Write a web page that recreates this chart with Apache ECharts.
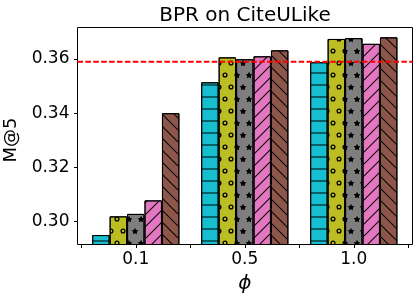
<!DOCTYPE html>
<html>
<head>
<meta charset="utf-8">
<script src="https://cdn.jsdelivr.net/npm/echarts@6/dist/echarts.min.js"></script>
<style>html,body{margin:0;padding:0;background:#fff;}#c{width:419px;height:301px;}</style>
</head>
<body>
<div id="c"></div>
<script>
// ---- data ----
var categories = ['0.1', '0.5', '1.0'];
var seriesCyan  = [0.2950, 0.3514, 0.3588];
var seriesOlive = [0.3019, 0.3606, 0.3674];
var seriesGray  = [0.3028, 0.3599, 0.3677];
var seriesPink  = [0.3078, 0.3610, 0.3656];
var seriesBrown = [0.3400, 0.3632, 0.3680];
var baselineValue = 0.3590;
var yTicks = [0.30, 0.32, 0.34, 0.36];
var yMin = 0.29151, yMax = 0.37163;

var FONT = 'DejaVu Sans';
var ringPath = 'path://M0,10 A10,10 0 1,0 20,10 A10,10 0 1,0 0,10 Z M5,10 A5,5 0 1,1 15,10 A5,5 0 1,1 5,10 Z';
var starPath = 'path://M50,0 L64.69,29.77 L97.55,34.55 L73.78,57.73 L79.39,90.45 L50,75 L20.61,90.45 L26.22,57.73 L2.45,34.55 L35.31,29.77 Z';
var slashPath = 'path://M0,11.3 L11.3,0 L12,0 L12,0.7 L0.7,12 L0,12 Z M0,0 L0.7,0 L0,0.7 Z M12,11.3 L12,12 L11.3,12 Z';
var backPath = 'path://M0,0 L0.7,0 L12,11.3 L12,12 L11.3,12 L0,0.7 Z M11.3,0 L12,0 L12,0.7 Z M0,11.3 L0.7,12 L0,12 Z';

var decals = [
  {symbol: 'rect', symbolSize: 1, symbolKeepAspect: false, color: 'rgba(0,0,0,0.5)', dashArrayX: [[12, 0]], dashArrayY: [2, 10]},
  {symbol: ringPath, symbolSize: 0.85, symbolKeepAspect: true, color: '#000', dashArrayX: [[6, 6], [0, 6, 6, 0]], dashArrayY: [6, 6]},
  {symbol: starPath, symbolSize: 1.15, symbolKeepAspect: true, color: '#000', dashArrayX: [[6, 6], [0, 6, 6, 0]], dashArrayY: [6, 6]},
  {symbol: slashPath, symbolSize: 1, symbolKeepAspect: false, color: '#000', dashArrayX: [[12, 0]], dashArrayY: [12, 0]},
  {symbol: backPath, symbolSize: 1, symbolKeepAspect: false, color: '#000', dashArrayX: [[12, 0]], dashArrayY: [12, 0]}
];
var colors = ['#17becf', '#bcbd22', '#7f7f7f', '#e377c2', '#8c564b'];
var allSeries = [seriesCyan, seriesOlive, seriesGray, seriesPink, seriesBrown];

var barSeries = allSeries.map(function (d, i) {
  return {
    type: 'bar', xAxisIndex: 0, yAxisIndex: 1, data: d,
    barGap: '0%', barCategoryGap: '20%',
    itemStyle: {color: colors[i], borderColor: '#000', borderWidth: 1, decal: decals[i]},
    emphasis: {disabled: true}, z: 2
  };
});

var chart = echarts.init(document.getElementById('c'), null, {renderer: 'canvas'});
chart.setOption({
  animation: false,
  backgroundColor: '#fff',
  title: {
    text: 'BPR on CiteULike', left: 245, top: 6, textAlign: 'center', padding: 0,
    textStyle: {fontFamily: FONT, fontSize: 20, fontWeight: 'normal', color: '#000'}
  },
  grid: [
    {left: 77.5, right: 6.5, top: 27.5, bottom: 56.5, show: true, borderColor: '#000', borderWidth: 1, backgroundColor: 'transparent', containLabel: false, outerBoundsMode: 'none'},
    {left: 81.3, right: 10.7, top: 27.5, bottom: 56.5, containLabel: false, outerBoundsMode: 'none'}
  ],
  xAxis: [
    {type: 'category', gridIndex: 1, data: categories, position: 'bottom', boundaryGap: true,
     axisLine: {show: false}, axisTick: {show: true, length: 3.5, lineStyle: {color: '#000', width: 1}},
     axisLabel: {show: false}, splitLine: {show: false}},
    {type: 'category', gridIndex: 1, data: categories, position: 'bottom', boundaryGap: true,
     axisLine: {show: false}, axisTick: {show: true, alignWithLabel: true, length: 3.5, lineStyle: {color: '#000', width: 1}},
     axisLabel: {show: true, margin: 7, fontFamily: FONT, fontSize: 17, color: '#000'},
     splitLine: {show: false},
     name: 'ϕ', nameLocation: 'middle', nameGap: 26,
     nameTextStyle: {fontFamily: FONT, fontSize: 20, fontStyle: 'italic', color: '#000'}},
    {type: 'value', gridIndex: 0, min: 0, max: 1, show: false}
  ],
  yAxis: [
    {type: 'value', gridIndex: 0, min: yMin, max: yMax, position: 'left',
     axisLine: {show: false}, splitLine: {show: false},
     axisTick: {show: true, length: 3.5, customValues: yTicks, lineStyle: {color: '#000', width: 1}},
     axisLabel: {show: true, margin: 8, customValues: yTicks, fontFamily: FONT, fontSize: 17, color: '#000',
                 formatter: function (v) { return Number(v).toFixed(2); }},
     name: 'M@5', nameLocation: 'middle', nameRotate: 90, nameGap: 46,
     nameTextStyle: {fontFamily: FONT, fontSize: 18, color: '#000', padding: [0, 8, 0, 0]}},
    {type: 'value', gridIndex: 1, min: yMin, max: yMax, show: false, splitLine: {show: false}}
  ],
  series: barSeries.concat([{
    type: 'line', xAxisIndex: 2, yAxisIndex: 0,
    data: [[0, baselineValue], [1, baselineValue]],
    showSymbol: false, symbol: 'none', z: 10,
    lineStyle: {color: '#ff0000', width: 2, type: [5.5, 2.4]},
    emphasis: {disabled: true}
  }])
});
</script>
</body>
</html>
